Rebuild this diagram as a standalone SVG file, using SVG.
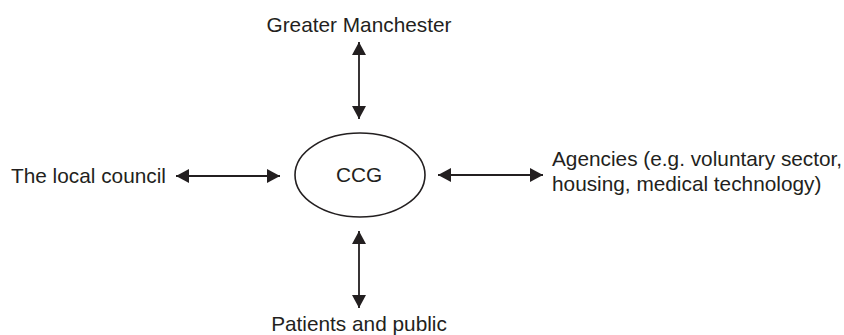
<svg xmlns="http://www.w3.org/2000/svg" width="844" height="335" viewBox="0 0 844 335">
<style>
text{font-family:"Liberation Sans",Arial,sans-serif;font-size:20.8px;fill:#231f20}
.c line{stroke:#231f20;stroke-width:1.8}
</style>
<defs>
<marker id="ah" viewBox="0 0 13 14" refX="13" refY="7" markerWidth="13" markerHeight="14" markerUnits="userSpaceOnUse" orient="auto-start-reverse">
<path d="M0,0 L13,7 L0,14 Z" fill="#231f20"/>
</marker>
</defs>
<rect width="844" height="335" fill="#fff"/>
<g id="ccg">
<ellipse cx="360" cy="175" rx="65" ry="42" fill="none" stroke="#231f20" stroke-width="1.6"/>
<text x="359" y="182" text-anchor="middle">CCG</text>
</g>
<g id="gm"><text x="359" y="32" text-anchor="middle">Greater Manchester</text></g>
<g id="council"><text x="11" y="183">The local council</text></g>
<g id="agencies"><text x="552" y="166">Agencies (e.g. voluntary sector,</text><text x="552" y="191">housing, medical technology)</text></g>
<g id="patients"><text x="359" y="331" text-anchor="middle">Patients and public</text></g>
<g class="c" id="connectors">
<line x1="359" y1="42" x2="359" y2="119" marker-start="url(#ah)" marker-end="url(#ah)"/>
<line x1="176" y1="176" x2="280" y2="176" marker-start="url(#ah)" marker-end="url(#ah)"/>
<line x1="438" y1="175" x2="543" y2="175" marker-start="url(#ah)" marker-end="url(#ah)"/>
<line x1="359" y1="231" x2="359" y2="308" marker-start="url(#ah)" marker-end="url(#ah)"/>
</g>
</svg>
